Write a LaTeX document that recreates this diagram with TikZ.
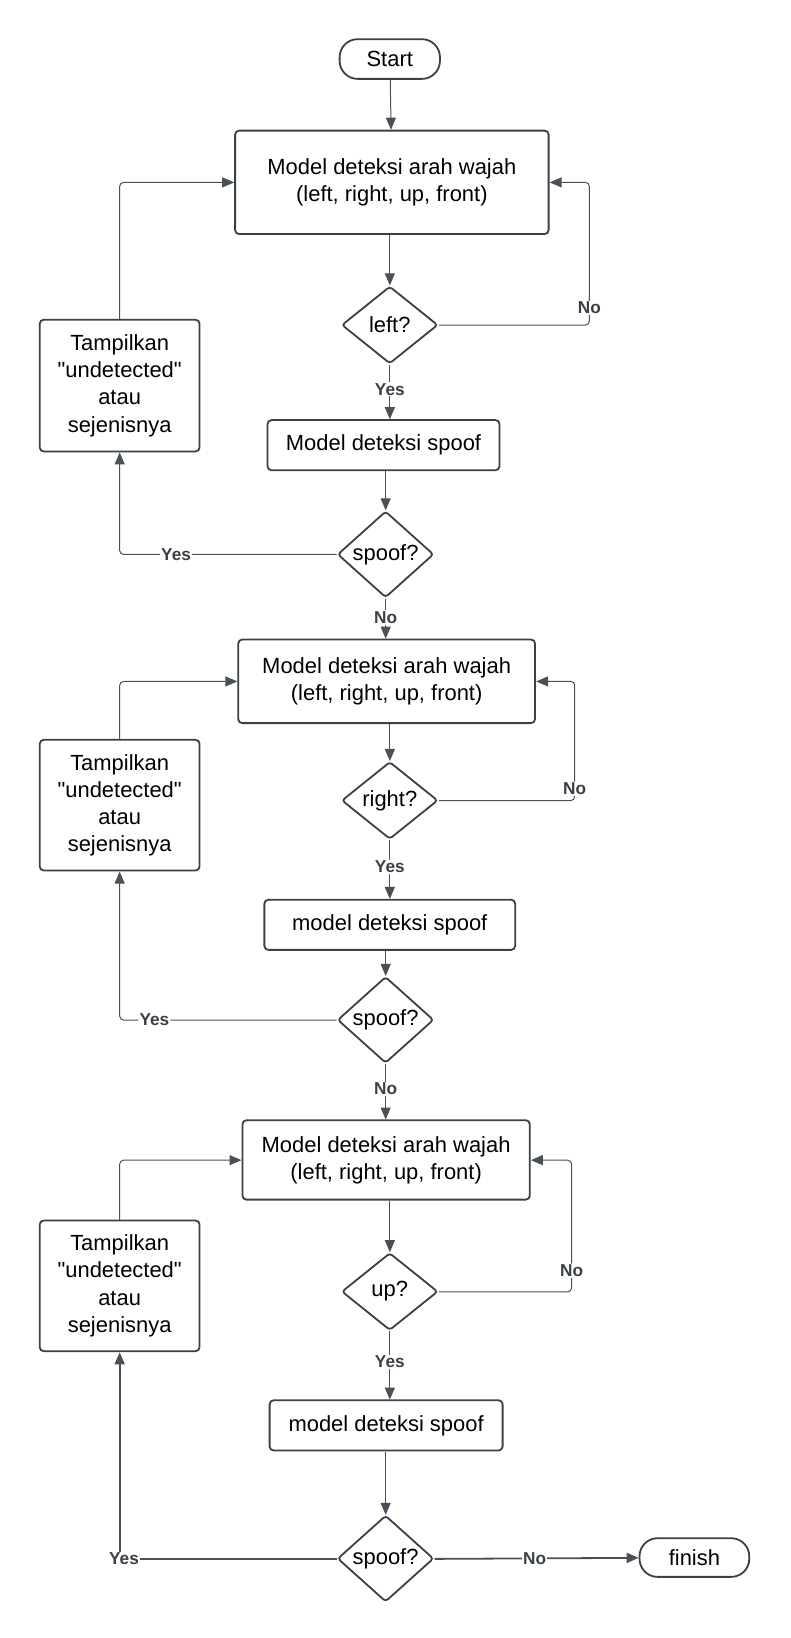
\documentclass[tikz,border=0pt]{standalone}
\usepackage{fontspec}
\setmainfont{Liberation Sans}
\usetikzlibrary{arrows.meta,shapes.geometric}

\definecolor{linegray}{HTML}{4A5058}
\definecolor{boxgray}{HTML}{3A4048}

\begin{document}
\begin{tikzpicture}[x=1pt, y=-1pt, scale=1.045, transform shape, ->, >={Triangle[length=12pt,width=10pt]},
	line width=1pt, draw=linegray,
	box/.style={rectangle, draw=boxgray, line width=1.8pt, rounded corners=4pt, align=center, inner sep=2pt, font=\fontsize{21}{26}\selectfont},
	pill/.style={box, rounded corners=18pt},
	decide/.style={diamond, draw=boxgray, line width=1.8pt, rounded corners=3pt, inner sep=0pt, minimum width=92pt, minimum height=74pt, font=\fontsize{21}{24}\selectfont},
	lbl/.style={fill=white, inner sep=1pt, text=boxgray, font=\fontsize{16.5}{18}\selectfont\bfseries}]

		\useasboundingbox (0,0) rectangle (756,1567.5);

		\node[pill, minimum width=96pt, minimum height=38pt] (start) at (373,56.5) {Start};
		\node[box, minimum width=300pt, minimum height=99pt] (wajah1) at (375,174.5) {Model deteksi arah wajah\\(left, right, up, front)};
		\node[decide] (left) at (373,311) {left?};
		\node[box, minimum width=222pt, minimum height=48pt] (spoof1) at (367,426) {Model deteksi spoof};
		\node[decide] (cek1) at (369,530.5) {spoof?};
		\node[box, minimum width=153pt, minimum height=126pt] (tampil1) at (114.5,369) {Tampilkan\\\textquotedbl undetected\textquotedbl\\atau\\sejenisnya};

		\node[box, minimum width=284pt, minimum height=80pt] (wajah2) at (370,652) {Model deteksi arah wajah\\(left, right, up, front)};
		\node[decide] (right) at (373,766) {right?};
		\node[box, minimum width=240pt, minimum height=48pt] (spoof2) at (373,885) {model deteksi spoof};
		\node[decide] (cek2) at (369,976) {spoof?};
		\node[box, minimum width=153pt, minimum height=125pt] (tampil2) at (114.5,770.5) {Tampilkan\\\textquotedbl undetected\textquotedbl\\atau\\sejenisnya};

		\node[box, minimum width=275pt, minimum height=76pt] (wajah3) at (369.5,1110) {Model deteksi arah wajah\\(left, right, up, front)};
		\node[decide] (up) at (373,1236) {up?};
		\node[box, minimum width=223pt, minimum height=48pt] (spoof3) at (369.5,1364) {model deteksi spoof};
		\node[decide] (cek3) at (369,1491.5) {spoof?};
		\node[box, minimum width=153pt, minimum height=125pt] (tampil3) at (114.5,1230.5) {Tampilkan\\\textquotedbl undetected\textquotedbl\\atau\\sejenisnya};
		\node[pill, minimum width=105pt, minimum height=37pt] (finish) at (664.5,1490.5) {finish};

		% first round: left
		\draw (start) -- (wajah1);
		\draw (wajah1.south -| left.north) -- (left.north);
		\draw[rounded corners=4pt] (left.east) -- ++(144,0) |- node[lbl, pos=0.06] {No} (wajah1.east);
		\draw (left.south) -- node[lbl, pos=0.45] {Yes} (left.south |- spoof1.north);
		\draw (spoof1.south -| cek1.north) -- (cek1.north);
		\draw[rounded corners=4pt] (cek1.west) -| node[lbl, pos=0.37] {Yes} (tampil1.south);
		\draw[rounded corners=4pt] (tampil1.north) |- (wajah1.west);
		\draw (cek1.south) -- node[lbl, pos=0.47] {No} (cek1.south |- wajah2.north);

		% second round: right
		\draw (wajah2.south -| right.north) -- (right.north);
		\draw[rounded corners=4pt] (right.east) -- ++(130,0) |- node[lbl, pos=0.05] {No} (wajah2.east);
		\draw (right.south) -- node[lbl, pos=0.45] {Yes} (spoof2.north);
		\draw (spoof2.south -| cek2.north) -- (cek2.north);
		\draw[rounded corners=4pt] (cek2.west) -| node[lbl, pos=0.42] {Yes} (tampil2.south);
		\draw[rounded corners=4pt] (tampil2.north) |- (wajah2.west);
		\draw (cek2.south) -- node[lbl, pos=0.45] {No} (cek2.south |- wajah3.north);

		% third round: up
		\draw (wajah3.south -| up.north) -- (up.north);
		\draw[rounded corners=4pt] (up.east) -- ++(127,0) |- node[lbl, pos=0.08] {No} (wajah3.east);
		\draw (up.south) -- node[lbl, pos=0.45] {Yes} (up.south |- spoof3.north);
		\draw (spoof3.south -| cek3.north) -- (cek3.north);
		\draw[line width=1.8pt] (cek3.west) -| node[lbl, pos=0.49] {Yes} (tampil3.south);
		\draw[rounded corners=4pt] (tampil3.north) |- (wajah3.west);
		\draw[line width=1.8pt] (cek3.east) -- node[lbl, pos=0.49] {No} (finish.west);

\end{tikzpicture}
\end{document}
